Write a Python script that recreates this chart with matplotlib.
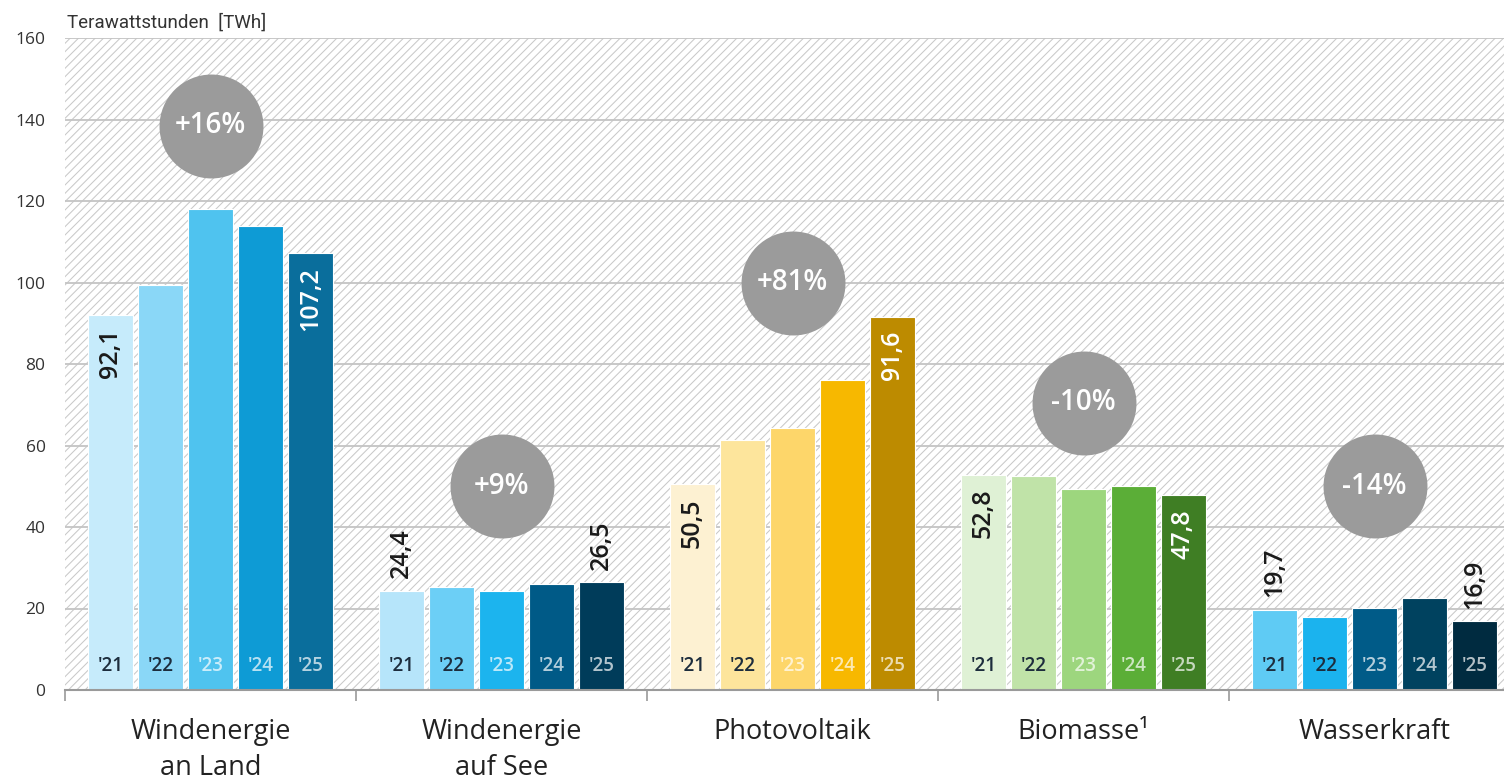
import matplotlib
matplotlib.use("Agg")
import matplotlib.pyplot as plt
from matplotlib.patches import Rectangle
import numpy as np

# Data (TWh)
categories = ["Windenergie\nan Land", "Windenergie\nauf See", "Photovoltaik", "Biomasse¹", "Wasserkraft"]
years = ["'21", "'22", "'23", "'24", "'25"]
wind_land = [92.1, 99.4, 118.1, 113.8, 107.2]
wind_see = [24.4, 25.3, 24.2, 26.1, 26.5]
photovoltaik = [50.5, 61.4, 64.3, 76.0, 91.6]
biomasse = [52.8, 52.5, 49.4, 50.0, 47.8]
wasserkraft = [19.7, 17.8, 20.2, 22.6, 16.9]
changes = ["+16%", "+9%", "+81%", "-10%", "-14%"]

series = [wind_land, wind_see, photovoltaik, biomasse, wasserkraft]

# styling
colors = [
    ["#c6ebfb", "#8ad7f7", "#4fc3ef", "#0e9bd5", "#0a6e9c"],
    ["#b6e5fa", "#6ccff6", "#1cb4ee", "#005a87", "#003c5a"],
    ["#fdf1d2", "#fde59c", "#fdd66a", "#f7b800", "#bd8b00"],
    ["#dff1d5", "#c0e3a8", "#9dd67e", "#5bae37", "#3f7e24"],
    ["#5fcbf4", "#1bb3ee", "#005b88", "#00425f", "#002b40"],
]
badge_y = [138.5, 50.0, 100.0, 70.5, 50.0]
plt.rcParams["font.family"] = ["Open Sans", "DejaVu Sans"]
plt.rcParams["hatch.linewidth"] = 0.75

W, H = 1504, 784
fig = plt.figure(figsize=(W / 100, H / 100), dpi=100)
ax = fig.add_axes([65 / W, 94 / H, 1455 / W, 652 / H])
ax.set_xlim(0, 5)
ax.set_ylim(0, 160)

# hatched background
ax.add_patch(Rectangle((0, 0), 5, 160, facecolor="white", edgecolor="#c9c9c9",
                       hatch="////", linewidth=0, zorder=0))
ax.set_axisbelow(True)
ax.set_yticks(range(0, 161, 20))
ax.yaxis.grid(True, color="#c4c4c4", linewidth=1.3)
ax.tick_params(axis="y", length=0, pad=14, labelsize=12.5, labelcolor="#333333")

for s in ["top", "right", "left"]:
    ax.spines[s].set_visible(False)
ax.spines["bottom"].set_color("#9a9a9a")
ax.spines["bottom"].set_linewidth(1.5)

# category boundaries as ticks, names as minor tick labels
ax.set_xticks(np.arange(0, 6))
ax.set_xticklabels([])
ax.tick_params(axis="x", which="major", length=8, color="#9a9a9a", width=1.2)
ax.set_xticks(np.arange(5) + 0.5, minor=True)
ax.set_xticklabels(categories, minor=True, fontsize=19.5,
                   color="#222222", linespacing=1.4)
ax.tick_params(axis="x", which="minor", length=0, pad=20)

pitch = 0.1718
bw = 0.155
for ci, vals in enumerate(series):
    xs = ci + 0.5 + (np.arange(5) - 2) * pitch
    ax.bar(xs, vals, width=bw, color=colors[ci], edgecolor="white",
           linewidth=0.8, zorder=2)

    # year labels
    for k, (x, yr) in enumerate(zip(xs, years)):
        if k < 2:
            ax.annotate(yr, (x, 0), xytext=(0, 10), textcoords="offset points",
                        ha="center", va="bottom", fontsize=13.5, color="#1d2d3d",
                        fontweight="semibold", zorder=4)
        else:
            ax.annotate(yr, (x, 0), xytext=(0, 10), textcoords="offset points",
                        ha="center", va="bottom", fontsize=13.5, color="white",
                        fontweight="semibold", alpha=0.7, zorder=4)

    # first and last value
    for k in (0, 4):
        v = vals[k]
        txt = f"{v:.1f}".replace(".", ",")
        if v > 40:
            col = "#1a1a1a" if k == 0 else "white"
            ax.annotate(txt, (xs[k], v), xytext=(0, -10), textcoords="offset points",
                        ha="center", va="top", rotation=90, fontsize=18,
                        fontweight="semibold", color=col, zorder=4)
        else:
            ax.annotate(txt, (xs[k], v), xytext=(0, 9), textcoords="offset points",
                        ha="center", va="bottom", rotation=90, fontsize=18,
                        fontweight="semibold", color="#1a1a1a", zorder=4)

    # change badge
    ax.scatter(ci + 0.5, badge_y[ci], s=5600, color="#9b9b9b", linewidths=0, zorder=3)
    ax.text(ci + 0.5, badge_y[ci], changes[ci], ha="center", va="center",
            fontsize=20, color="white", fontweight="semibold", zorder=4)

fig.text(67 / W, 1 - 28 / H, "Terawattstunden  [TWh]", family=["Roboto", "DejaVu Sans"],
         fontsize=13.5, color="#333333", va="baseline", ha="left")

fig.savefig("out.png", dpi=100)
